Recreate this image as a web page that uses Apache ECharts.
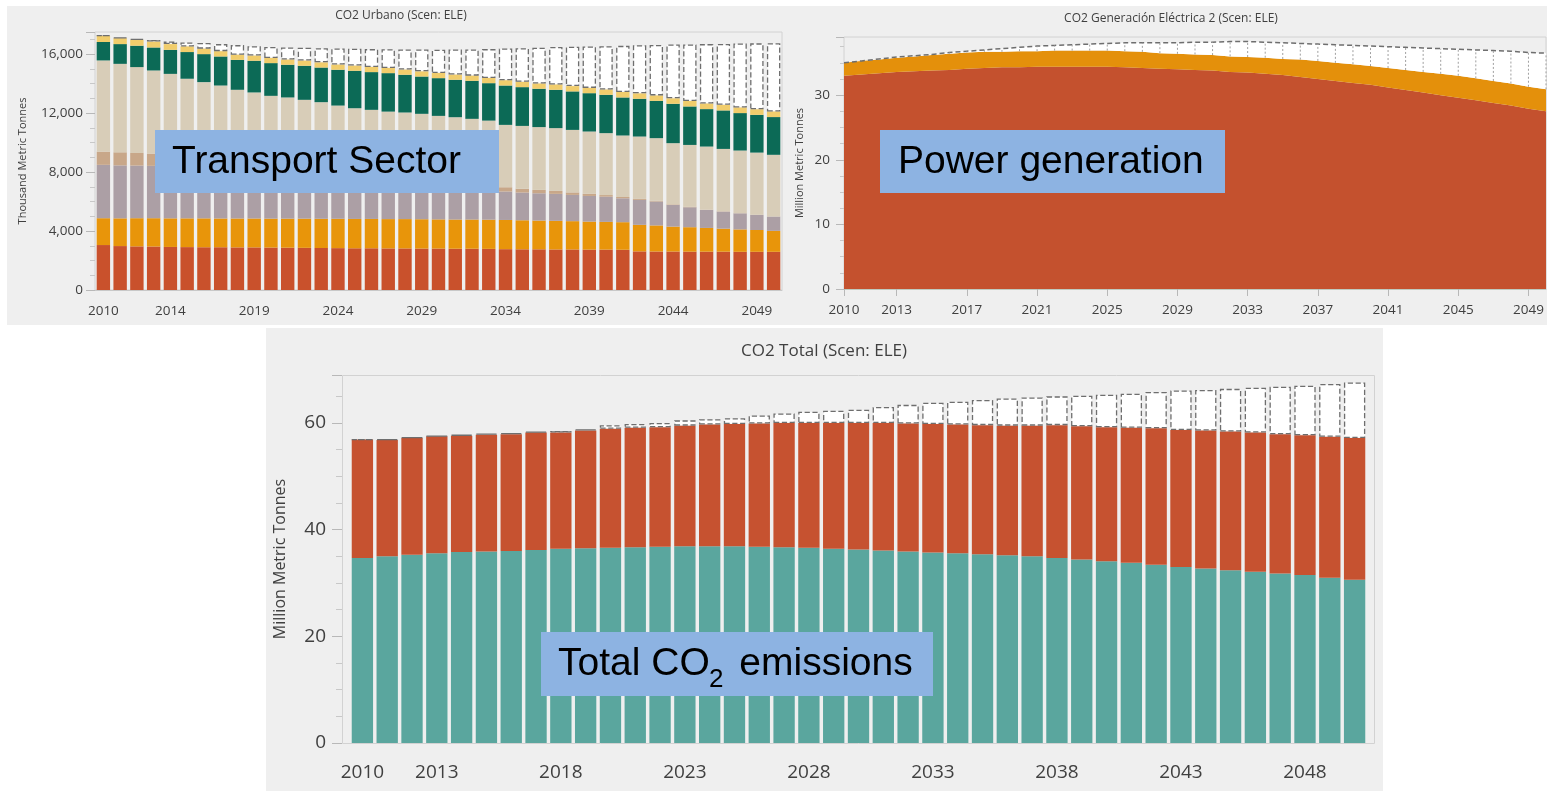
<!DOCTYPE html>
<html>
<head>
<meta charset="utf-8">
<script src="https://cdn.jsdelivr.net/npm/echarts@6/dist/echarts.min.js"></script>
<style>
html,body{margin:0;padding:0;background:#fff;}
#c{width:1547px;height:791px;}
</style>
</head>
<body>
<div id="c"></div>
<script>
// ---------- categories ----------
const years = ['2010','2011','2012','2013','2014','2015','2016','2017','2018','2019',
  '2020','2021','2022','2023','2024','2025','2026','2027','2028','2029',
  '2030','2031','2032','2033','2034','2035','2036','2037','2038','2039',
  '2040','2041','2042','2043','2044','2045','2046','2047','2048','2049','2050'];

// tick labels shown on each x axis
const tlLabels = ['2010','2014','2019','2024','2029','2034','2039','2044','2049'];
const trLabels = ['2010','2013','2017','2021','2025','2029','2033','2037','2041','2045','2049'];
const btLabels = ['2010','2013','2018','2023','2028','2033','2038','2043','2048'];

// ---------- CO2 Urbano (thousand metric tonnes), stacked bottom -> top ----------
const tRed    = [3050,2980,2960,2950,2920,2910,2900,2900,2890,2890,2880,2870,2860,2850,2840,2830,2830,2820,2820,2810,2810,2800,2800,2790,2770,2760,2760,2750,2750,2740,2740,2730,2620,2610,2610,2600,2600,2600,2590,2590,2590];
const tOrange = [1820,1880,1910,1920,1940,1950,1960,1950,1960,1960,1960,1970,1980,1980,1990,1990,1990,1990,1990,1990,1980,1980,1980,1980,1980,1970,1950,1940,1920,1900,1880,1870,1800,1770,1690,1660,1610,1560,1520,1480,1420];
const tMauve  = [3620,3590,3570,3550,3520,3470,3420,3380,3320,3260,3200,3130,3060,2990,2910,2830,2740,2650,2550,2450,2350,2240,2120,2010,1930,1880,1850,1830,1780,1740,1710,1620,1690,1620,1470,1350,1220,1160,1090,1020,970];
const tBrown  = [900,890,860,830,800,770,740,710,680,650,620,590,560,530,500,470,450,430,410,390,370,350,330,310,290,260,230,200,170,140,110,90,70,50,40,30,20,20,10,10,10];
const tBeige  = [6180,6000,5820,5640,5480,5230,5080,4930,4730,4640,4510,4500,4440,4390,4270,4210,4210,4210,4270,4310,4300,4350,4380,4400,4230,4260,4260,4260,4240,4230,4200,4170,4230,4250,4150,4200,4280,4230,4250,4220,4180];
const tGreen  = [1250,1340,1450,1560,1630,1810,1900,1970,2030,2150,2220,2220,2310,2350,2430,2540,2560,2610,2560,2530,2560,2540,2580,2540,2670,2630,2600,2600,2610,2600,2600,2580,2560,2530,2670,2610,2540,2610,2540,2560,2560];
const tYellow = [430,400,400,400,390,380,370,360,350,350,350,350,350,350,350,350,350,350,350,350,350,350,350,350,360,360,360,360,360,360,360,370,370,370,370,370,380,380,380,380,380];
const tGap    = [0,40,60,110,180,270,380,480,650,640,750,820,870,960,1090,1140,1210,1270,1370,1480,1580,1700,1780,1960,2150,2280,2420,2540,2670,2810,2940,3130,3260,3420,3650,3840,4030,4130,4340,4470,4630];

// ---------- CO2 Generación Eléctrica 2 (million metric tonnes) ----------
const pRed    = [33.0,33.2,33.4,33.6,33.7,33.8,33.9,34.1,34.2,34.3,34.3,34.4,34.4,34.4,34.4,34.4,34.3,34.2,34.1,34.0,33.9,33.8,33.6,33.5,33.3,33.1,32.8,32.5,32.2,31.9,31.6,31.2,30.8,30.4,30.0,29.6,29.2,28.8,28.4,27.9,27.5];
const pOrange = [2.0,2.1,2.1,2.2,2.3,2.4,2.5,2.5,2.5,2.4,2.5,2.4,2.5,2.5,2.5,2.5,2.5,2.5,2.4,2.4,2.4,2.4,2.4,2.4,2.5,2.5,2.7,2.8,2.8,2.9,2.9,3.0,3.1,3.2,3.3,3.4,3.4,3.4,3.4,3.4,3.4];
const pGap    = [0,0,0.1,0.1,0.1,0.1,0.2,0.2,0.3,0.5,0.6,0.8,0.8,0.9,1.0,1.1,1.3,1.4,1.6,1.7,1.9,2.0,2.3,2.4,2.4,2.5,2.5,2.6,2.8,2.9,3.1,3.3,3.5,3.7,3.9,4.1,4.4,4.7,5.0,5.3,5.6];

// ---------- CO2 Total (million metric tonnes) ----------
const cPower  = [34.7,35.0,35.3,35.6,35.8,35.9,36.0,36.2,36.4,36.5,36.6,36.7,36.8,36.9,36.9,36.9,36.8,36.7,36.6,36.4,36.3,36.1,35.9,35.7,35.6,35.4,35.2,35.0,34.7,34.4,34.1,33.8,33.4,33.0,32.7,32.4,32.1,31.8,31.5,31.0,30.6];
const cOther  = [22.2,21.8,21.9,21.9,21.8,21.9,21.9,22.0,21.8,22.1,22.3,22.4,22.4,22.6,22.8,22.9,23.1,23.3,23.4,23.6,23.7,23.9,24.0,24.1,24.1,24.2,24.3,24.5,24.9,25.0,25.1,25.3,25.6,25.7,25.9,26.0,26.1,26.1,26.2,26.4,26.6];
const cGap    = [0,0.2,0.1,0.1,0.2,0.2,0.2,0.2,0.3,0.2,0.7,0.7,0.8,1.0,1.0,1.1,1.5,1.8,2.1,2.3,2.5,3.0,3.5,4.0,4.3,4.7,5.1,5.3,5.4,5.7,6.1,6.4,6.8,7.4,7.6,8.0,8.4,8.9,9.3,9.9,10.4];

// ---------- chart ----------
const FONT = "'Open Sans', 'Noto Sans', sans-serif";
const ARIAL = "'Liberation Sans', Arial, sans-serif";
const TXT = '#404040';
const PANEL = '#efefef';
const chart = echarts.init(document.getElementById('c'), null, {renderer: 'canvas'});

const pick = (list) => (idx, val) => list.indexOf(val) >= 0;

const dashedGap = {color: '#ffffff', borderColor: '#6e6e6e', borderWidth: 1.3, borderType: 'dashed'};

function tlBar(name, data, color) {
  return {name, type: 'bar', xAxisIndex: 0, yAxisIndex: 0, stack: 'tl', data,
    barCategoryGap: '20%', itemStyle: {color}, z: 2};
}
function btBar(name, data, color) {
  return {name, type: 'bar', xAxisIndex: 2, yAxisIndex: 2, stack: 'bt', data,
    barCategoryGap: '14%', itemStyle: {color}, z: 2};
}

const option = {
  animation: false,
  backgroundColor: '#ffffff',
  textStyle: {fontFamily: FONT},
  grid: [
    {left: 95, top: 32, width: 687, height: 258, show: true, borderColor: '#d2d2d2', borderWidth: 1, backgroundColor: 'transparent'},
    {left: 844, top: 37, width: 702, height: 252, show: true, borderColor: '#d2d2d2', borderWidth: 1, backgroundColor: 'transparent'},
    {left: 350, top: 375, width: 1017, height: 368, show: false}
  ],
  xAxis: [
    {gridIndex: 0, type: 'category', data: years,
      axisLine: {lineStyle: {color: '#c8c8c8'}},
      axisTick: {alignWithLabel: true, interval: pick(tlLabels), length: 7, lineStyle: {color: '#b8b8b8'}},
      axisLabel: {interval: pick(tlLabels), color: TXT, fontSize: 13.5, margin: 14, fontFamily: FONT}},
    {gridIndex: 1, type: 'category', data: years, boundaryGap: false,
      axisLine: {lineStyle: {color: '#bfcabf'}},
      axisTick: {interval: pick(trLabels), length: 7, lineStyle: {color: '#b8b8b8'}},
      axisLabel: {interval: pick(trLabels), color: TXT, fontSize: 13.5, margin: 14, fontFamily: FONT}},
    {gridIndex: 2, type: 'category', data: years,
      axisLine: {show: false},
      axisTick: {alignWithLabel: true, interval: pick(btLabels), length: 10, lineStyle: {color: '#b8b8b8'}},
      axisLabel: {interval: pick(btLabels), color: TXT, fontSize: 19, margin: 20, fontFamily: FONT}}
  ],
  yAxis: [
    {gridIndex: 0, type: 'value', min: 0, max: 17500, interval: 4000,
      splitLine: {show: false}, axisLine: {show: false},
      axisTick: {show: true, length: 9, lineStyle: {color: '#b8b8b8'}},
      minorTick: {show: true, splitNumber: 4, length: 5, lineStyle: {color: '#c8c8c8'}},
      axisLabel: {showMaxLabel: false, color: TXT, fontSize: 13.5, margin: 12, fontFamily: FONT,
        formatter: v => v.toLocaleString('en-US')},
      name: 'Thousand Metric Tonnes', nameLocation: 'middle', nameGap: 67,
      nameTextStyle: {fontSize: 11, color: TXT, fontFamily: FONT}},
    {gridIndex: 1, type: 'value', min: 0, max: 39, interval: 10,
      splitLine: {show: false}, axisLine: {show: false},
      axisTick: {show: true, length: 8, lineStyle: {color: '#b8b8b8'}},
      minorTick: {show: true, splitNumber: 4, length: 4, lineStyle: {color: '#c8c8c8'}},
      axisLabel: {showMaxLabel: false, color: TXT, fontSize: 13.5, margin: 14, fontFamily: FONT},
      name: 'Million Metric Tonnes', nameLocation: 'middle', nameGap: 39,
      nameTextStyle: {fontSize: 11, color: TXT, fontFamily: FONT}},
    {gridIndex: 2, type: 'value', min: 0, max: 69, interval: 20, offset: 8,
      splitLine: {show: false}, axisLine: {show: false},
      axisTick: {show: true, length: 10, lineStyle: {color: '#b8b8b8'}},
      minorTick: {show: true, splitNumber: 4, length: 6, lineStyle: {color: '#c8c8c8'}},
      axisLabel: {showMaxLabel: false, color: TXT, fontSize: 19, margin: 16, fontFamily: FONT},
      name: 'Million Metric Tonnes', nameLocation: 'middle', nameGap: 54,
      nameTextStyle: {fontSize: 16, color: TXT, fontFamily: FONT}}
  ],
  series: [
    tlBar('Serie A', tRed, '#c9512c'),
    tlBar('Serie B', tOrange, '#e8950a'),
    tlBar('Serie C', tMauve, '#ac9fa5'),
    tlBar('Serie D', tBrown, '#c8a789'),
    tlBar('Serie E', tBeige, '#d8cdb8'),
    tlBar('Serie F', tGreen, '#0c6a56'),
    tlBar('Serie G', tYellow, '#f1cd6c'),
    Object.assign(tlBar('Reducción', tGap, '#fff'), {itemStyle: dashedGap}),

    {name: 'Gen A', type: 'line', xAxisIndex: 1, yAxisIndex: 1, stack: 'tr', data: pRed,
      showSymbol: false, lineStyle: {width: 0}, areaStyle: {color: '#c4512e', opacity: 1}, z: 2},
    {name: 'Gen B', type: 'line', xAxisIndex: 1, yAxisIndex: 1, stack: 'tr', data: pOrange,
      showSymbol: false, lineStyle: {width: 0}, areaStyle: {color: '#e4900b', opacity: 1}, z: 2},
    {name: 'Reducción Gen', type: 'line', xAxisIndex: 1, yAxisIndex: 1, stack: 'tr', data: pGap,
      showSymbol: false, lineStyle: {width: 1.5, color: '#6e6e6e', type: [5, 3]},
      areaStyle: {color: '#ffffff', opacity: 1}, z: 3},
    {name: 'Reducción Gen marcas', type: 'custom', xAxisIndex: 1, yAxisIndex: 1, z: 4,
      data: years.map((y, i) => [i, pRed[i] + pOrange[i], pRed[i] + pOrange[i] + pGap[i]]),
      encode: {x: 0, y: [1, 2]},
      renderItem: function (params, api) {
        const i = api.value(0);
        const a = api.coord([i, api.value(1)]);
        const b = api.coord([i, api.value(2)]);
        return {type: 'line', shape: {x1: a[0], y1: a[1], x2: b[0], y2: b[1]},
          style: {stroke: '#a0a0a0', lineWidth: 1, lineDash: [2, 2]}};
      }},

    btBar('Generación eléctrica', cPower, '#5aa69e'),
    btBar('Otros', cOther, '#c65230'),
    Object.assign(btBar('Reducción Total', cGap, '#fff'), {itemStyle: dashedGap})
  ],
  graphic: [
    // panels
    {type: 'rect', z: -20, silent: true, shape: {x: 7, y: 6, width: 780, height: 319}, style: {fill: PANEL}},
    {type: 'rect', z: -20, silent: true, shape: {x: 787, y: 6, width: 760, height: 319}, style: {fill: PANEL}},
    {type: 'rect', z: -20, silent: true, shape: {x: 266, y: 328, width: 1117, height: 463}, style: {fill: PANEL}},
    // frame of bottom plot
    {type: 'rect', z: -10, silent: true, shape: {x: 342.5, y: 375.5, width: 1032, height: 368}, style: {fill: null, stroke: '#d2d2d2', lineWidth: 1}},
    // titles
    {type: 'text', z: 10, x: 401, y: 16, style: {text: 'CO2 Urbano (Scen: ELE)', fill: TXT, font: '12px ' + FONT, textAlign: 'center', textVerticalAlign: 'middle'}},
    {type: 'text', z: 10, x: 1171, y: 19, style: {text: 'CO2 Generación Eléctrica 2 (Scen: ELE)', fill: TXT, font: '12px ' + FONT, textAlign: 'center', textVerticalAlign: 'middle'}},
    {type: 'text', z: 10, x: 824, y: 351, style: {text: 'CO2 Total (Scen: ELE)', fill: TXT, font: '17px ' + FONT, textAlign: 'center', textVerticalAlign: 'middle'}},
    // annotation boxes
    {type: 'rect', z: 50, silent: true, shape: {x: 155, y: 130, width: 344, height: 63}, style: {fill: '#8db3e2'}},
    {type: 'text', z: 51, x: 172, y: 162, style: {text: 'Transport Sector', fill: '#000', font: '39px ' + ARIAL, textAlign: 'left', textVerticalAlign: 'middle'}},
    {type: 'rect', z: 50, silent: true, shape: {x: 880, y: 130, width: 345, height: 63}, style: {fill: '#8db3e2'}},
    {type: 'text', z: 51, x: 898, y: 162, style: {text: 'Power generation', fill: '#000', font: '39px ' + ARIAL, textAlign: 'left', textVerticalAlign: 'middle'}},
    {type: 'rect', z: 50, silent: true, shape: {x: 541, y: 632, width: 392, height: 64}, style: {fill: '#8db3e2'}},
    {type: 'text', z: 51, x: 558, y: 664, style: {text: 'Total CO', fill: '#000', font: '39px ' + ARIAL, textAlign: 'left', textVerticalAlign: 'middle'}},
    {type: 'text', z: 51, x: 709, y: 680, style: {text: '2', fill: '#000', font: '26px ' + ARIAL, textAlign: 'left', textVerticalAlign: 'middle'}},
    {type: 'text', z: 51, x: 728.5, y: 664, style: {text: ' emissions', fill: '#000', font: '39px ' + ARIAL, textAlign: 'left', textVerticalAlign: 'middle'}}
  ]
};
chart.setOption(option);
</script>
</body>
</html>
